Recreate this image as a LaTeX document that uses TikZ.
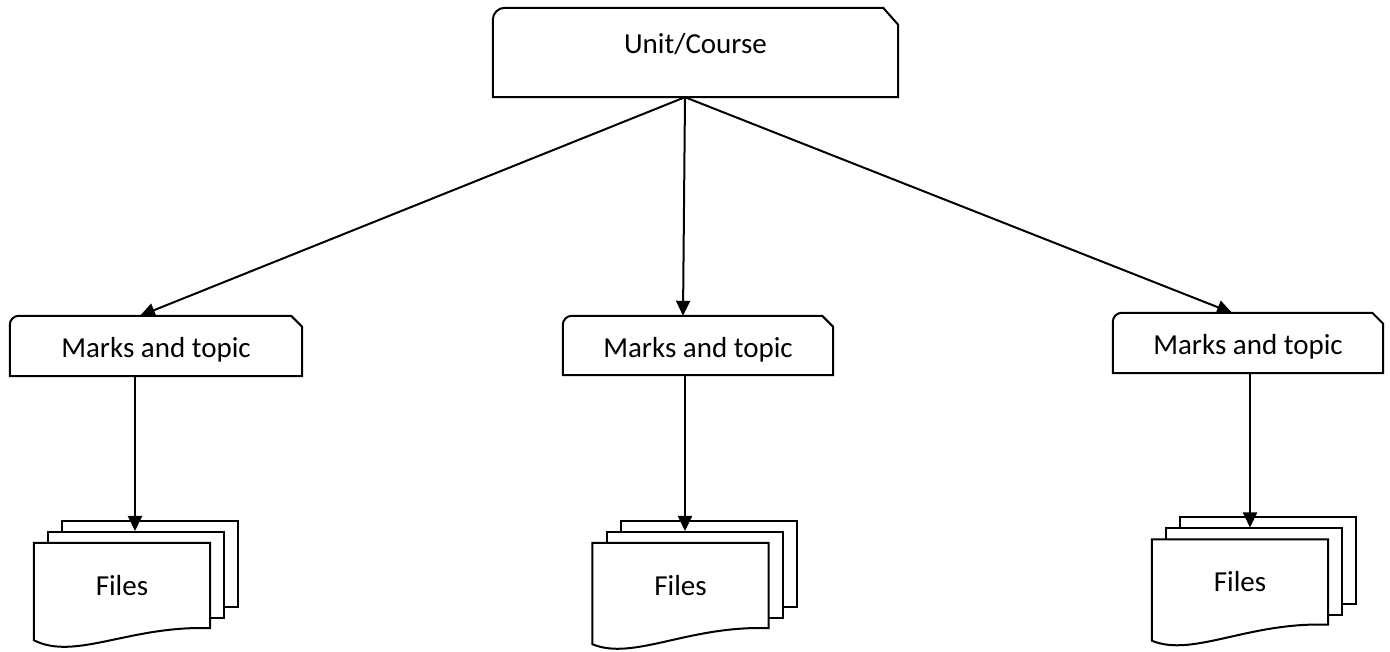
\documentclass[tikz,border=0pt]{standalone}
\usepackage{fontspec}
\setmainfont{Carlito}
\usetikzlibrary{arrows.meta,backgrounds}

\tikzset{
  outline/.style={line width=2pt, line join=miter},
  cardbox/.style={inner sep=0pt, font=\fontsize{29}{35}\selectfont,
    text height=24pt, text depth=0pt},
  topbox/.style={cardbox, minimum width=405pt, minimum height=89pt,
    text height=20pt, text depth=18pt},
  markbox/.style={cardbox, minimum height=60pt},
  frontpage/.style={inner sep=0pt, minimum width=176pt, minimum height=85pt,
    font=\fontsize{29}{35}\selectfont, text height=19pt, text depth=0pt},
  sheet/.style={outline, draw, fill=white, inner sep=0pt,
    minimum width=176pt, minimum height=86pt},
  arr/.style={line width=2pt, -{Triangle[length=15pt,width=14pt]}},
}

% card outline: rounded top-left corner, clipped top-right corner
\newcommand\cardoutline[4]{% node, corner radius, clip width, clip height
  \draw[outline] (#1.south west) -- ([yshift=-#2]#1.north west)
    arc[start angle=180, end angle=90, radius=#2]
    -- ([xshift=-#3]#1.north east) -- ([yshift=-#4]#1.north east)
    -- (#1.south east) -- cycle;}

% stack of three document sheets, the front one with a wavy lower edge
\newcommand\filestack[3]{% name, centre of front sheet, drop of lower-left corner
  \node[frontpage] (#1) at (#2) {Files};
  \begin{pgfonlayer}{background}
    \node[sheet] (#1b) at ([shift={(28pt,21.5pt)}]#1.center) {};
    \node[sheet] (#1m) at ([shift={(14pt,10.5pt)}]#1.center) {};
    \draw[outline, fill=white] (#1.south east) -- (#1.north east)
      -- (#1.north west) -- ([yshift=-#3]#1.south west)
      .. controls ([shift={(41pt,-33pt)}]#1.south west)
             and ([shift={(-80pt,3pt)}]#1.south east) .. (#1.south east)
      -- cycle;
  \end{pgfonlayer}}

\begin{document}
\begin{tikzpicture}[x=1pt, y=1pt]
  \useasboundingbox (0,0) rectangle (1390,651);

  % boxes
  \node[topbox] (top) at (695.5,598.5) {Unit/Course};
  \node[markbox, minimum width=292pt] (m1) at (156,305) {Marks and topic};
  \node[markbox, minimum width=270pt, minimum height=59pt] (m2) at (698,305.5) {Marks and topic};
  \node[markbox, minimum width=270pt] (m3) at (1248,308) {Marks and topic};

  \cardoutline{top}{12pt}{15pt}{17pt}
  \cardoutline{m1}{9pt}{11pt}{11pt}
  \cardoutline{m2}{9pt}{11pt}{11pt}
  \cardoutline{m3}{9pt}{11pt}{11pt}

  % file stacks
  \filestack{f1}{122,65.5}{12pt}
  \filestack{f2}{680.5,65.5}{16pt}
  \filestack{f3}{1240,69}{16pt}

  % connectors from the course box
  \coordinate (s0) at ([xshift=-10.5pt]top.south);
  \draw[arr] (s0) -- ([xshift=-16pt]m1.north);
  \draw[arr] (s0) -- ([xshift=-15pt]m2.north);
  \draw[arr] (s0) -- ([xshift=-16pt]m3.north);

  % connectors down to the files
  \coordinate (a1) at ([xshift=-21pt]m1.south);
  \coordinate (a2) at ([xshift=-13pt]m2.south);
  \coordinate (a3) at ([xshift=2pt]m3.south);
  \draw[arr] (a1) -- (a1 |- f1m.north);
  \draw[arr] (a2) -- (a2 |- f2m.north);
  \draw[arr] (a3) -- (a3 |- f3m.north);
\end{tikzpicture}
\end{document}
